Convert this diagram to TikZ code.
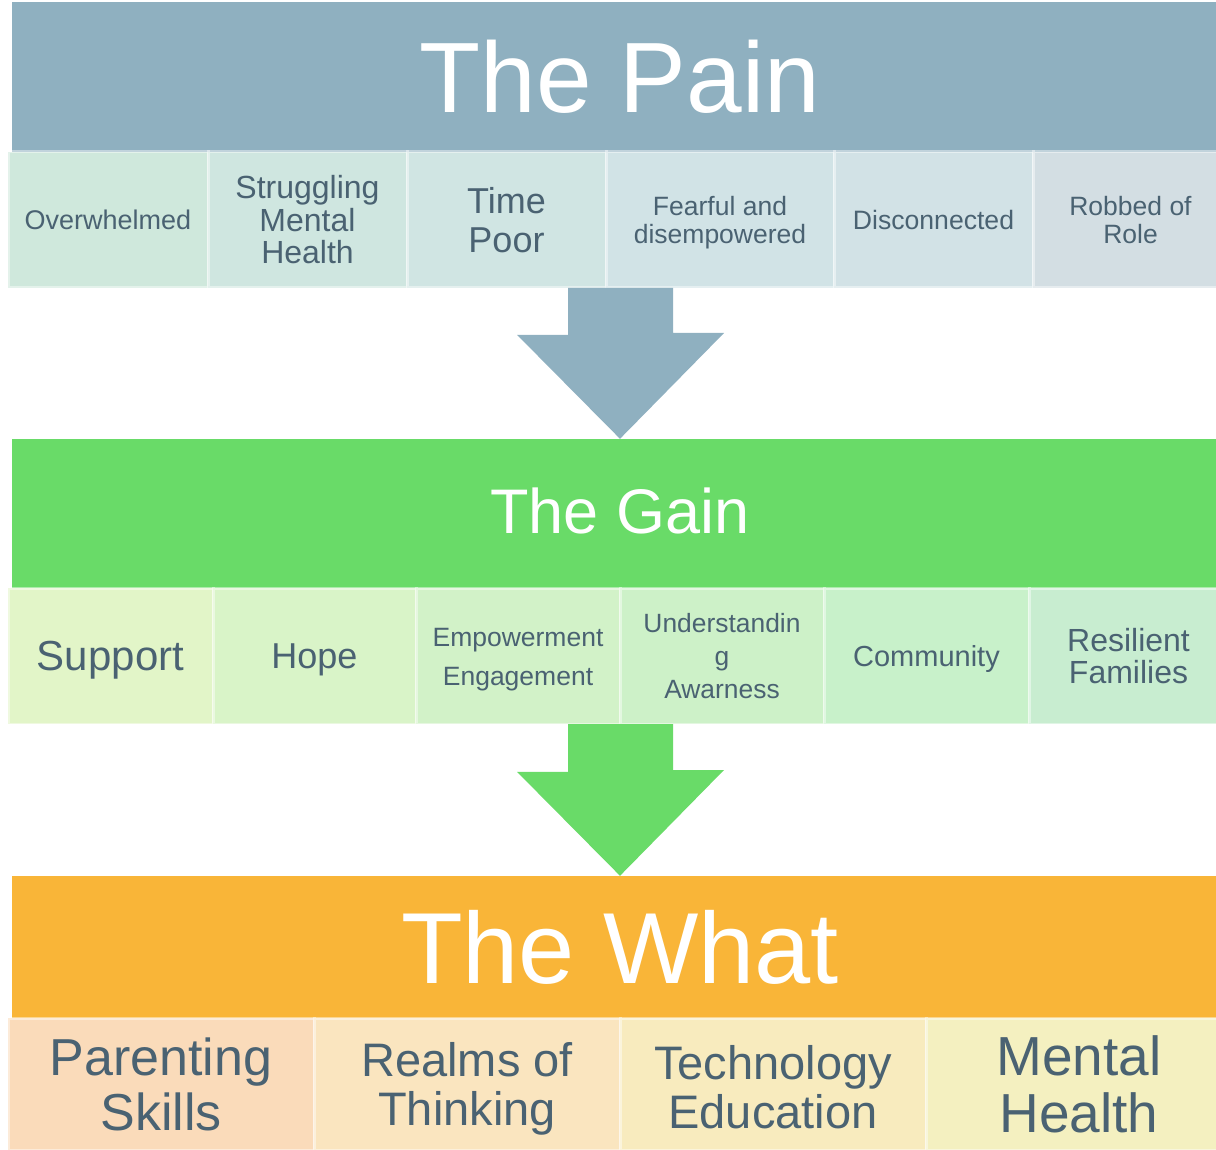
\documentclass[tikz,border=0pt]{standalone}
\usepackage{fontspec}
\setmainfont{Liberation Sans}
\definecolor{txt}{HTML}{4A6272}
\definecolor{painH}{HTML}{8FB0C0}
\definecolor{pA}{HTML}{CFE8DC}
\definecolor{pB}{HTML}{CFE6E0}
\definecolor{pC}{HTML}{D0E5E3}
\definecolor{pD}{HTML}{D1E3E6}
\definecolor{pE}{HTML}{D2E2E6}
\definecolor{pF}{HTML}{D3DEE3}
\definecolor{gainH}{HTML}{69DB68}
\definecolor{gA}{HTML}{E2F5C8}
\definecolor{gB}{HTML}{D9F4C8}
\definecolor{gC}{HTML}{D2F2C8}
\definecolor{gD}{HTML}{CDF1C8}
\definecolor{gE}{HTML}{C8F1CA}
\definecolor{gF}{HTML}{C8EDD0}
\definecolor{whatH}{HTML}{F9B538}
\definecolor{wA}{HTML}{FADBBA}
\definecolor{wB}{HTML}{FAE5BF}
\definecolor{wC}{HTML}{F8EBBE}
\definecolor{wD}{HTML}{F4F0C0}
\newcommand\fsz[1]{\fontsize{#1}{#1}\selectfont}
\begin{document}
\begin{tikzpicture}[x=1pt,y=-1pt,
  hdr/.style={inner sep=0, minimum width=1216pt, text=white, align=center},
  cellbox/.style={inner sep=0, draw=white, draw opacity=0.45, line width=3pt, text=txt, align=center, minimum height=136pt},
  wcell/.style={cellbox, minimum height=132pt, minimum width=306pt},
  lbl/.style={text=txt, align=center, inner sep=0}
]
\useasboundingbox (0,0) rectangle (1216,1150);
% headers
\node[hdr, fill=painH, minimum height=150pt, font=\fsz{100}] (pain) at (620,77) {The Pain};
\node[hdr, fill=gainH, minimum height=149pt, font=\fsz{63}] (gain) at (620,513.5) {};
\node[lbl, text=white, font=\fsz{63}] (gaint) at (620,511) {The Gain};
\node[hdr, fill=whatH, minimum height=142pt, font=\fsz{101}] (what) at (620,947) {The What};
% pain cells
\node[cellbox, fill=pA, minimum width=200pt, font=\fsz{27}] (p1) at (108,220) {Overwhelmed};
\node[cellbox, fill=pB, minimum width=199pt, font=\fontsize{32}{32.5}\selectfont] (p2) at (307.5,220) {Struggling\\Mental\\Health};
\node[cellbox, fill=pC, minimum width=199pt, font=\fontsize{36}{39}\selectfont] (p3) at (506.5,220) {Time\\Poor};
\node[cellbox, fill=pD, minimum width=228pt] (p4) at (720,220) {};
\node[lbl, font=\fontsize{26.5}{28}\selectfont] (p4t) at (720,223) {Fearful and\\disempowered};
\node[cellbox, fill=pE, minimum width=199pt, font=\fsz{26.6}] (p5) at (933.5,220) {Disconnected};
\node[cellbox, fill=pF, minimum width=195pt, font=\fontsize{26.5}{28}\selectfont] (p6) at (1130.5,220) {Robbed of\\Role};
% gain cells
\node[cellbox, fill=gA, minimum width=205pt] (g1) at (110.5,656) {};
\node[lbl, font=\fsz{42}] (g1t) at (110.5,660) {Support};
\node[cellbox, fill=gB, minimum width=203pt] (g2) at (314.5,656) {};
\node[lbl, font=\fsz{36}] (g2t) at (314.5,660) {Hope};
\node[cellbox, fill=gC, minimum width=204pt] (g3) at (518,656) {};
\node[lbl, font=\fontsize{26.5}{39}\selectfont] (g3t) at (518,660) {Empowerment\\Engagement};
\node[cellbox, fill=gD, minimum width=204pt, font=\fontsize{26.4}{33}\selectfont] (g4) at (722,656) {Understandin\\g\\Awarness};
\node[cellbox, fill=gE, minimum width=205pt] (g5) at (926.5,656) {};
\node[lbl, font=\fsz{29}] (g5t) at (926.5,659) {Community};
\node[cellbox, fill=gF, minimum width=199pt, font=\fontsize{32}{32}\selectfont] (g6) at (1128.5,656) {Resilient\\Families};
% what cells
\node[wcell, fill=wA, font=\fontsize{52}{55}\selectfont] (w1) at (161,1084) {Parenting\\Skills};
\node[wcell, fill=wB] (w2) at (467,1084) {};
\node[lbl, font=\fontsize{47}{49}\selectfont] (w2t) at (467,1089) {Realms of\\Thinking};
\node[wcell, fill=wC] (w3) at (773,1084) {};
\node[lbl, font=\fontsize{47}{49}\selectfont] (w3t) at (773,1087) {Technology\\Education};
\node[wcell, fill=wD, font=\fontsize{55}{57}\selectfont] (w4) at (1079,1084) {Mental\\Health};
% arrows
\coordinate (a1) at (568,288);
\coordinate (a2) at (568,724);
\fill[painH] (a1) -- ++(105,0) -- ++(0,45) -- ++(51,0) -- (gain.north) -- ++(-103,-104) -- ++(51,0) -- cycle;
\fill[gainH] (a2) -- ++(105,0) -- ++(0,46) -- ++(51,0) -- (what.north) -- ++(-103,-104) -- ++(51,0) -- cycle;
\end{tikzpicture}
\end{document}
